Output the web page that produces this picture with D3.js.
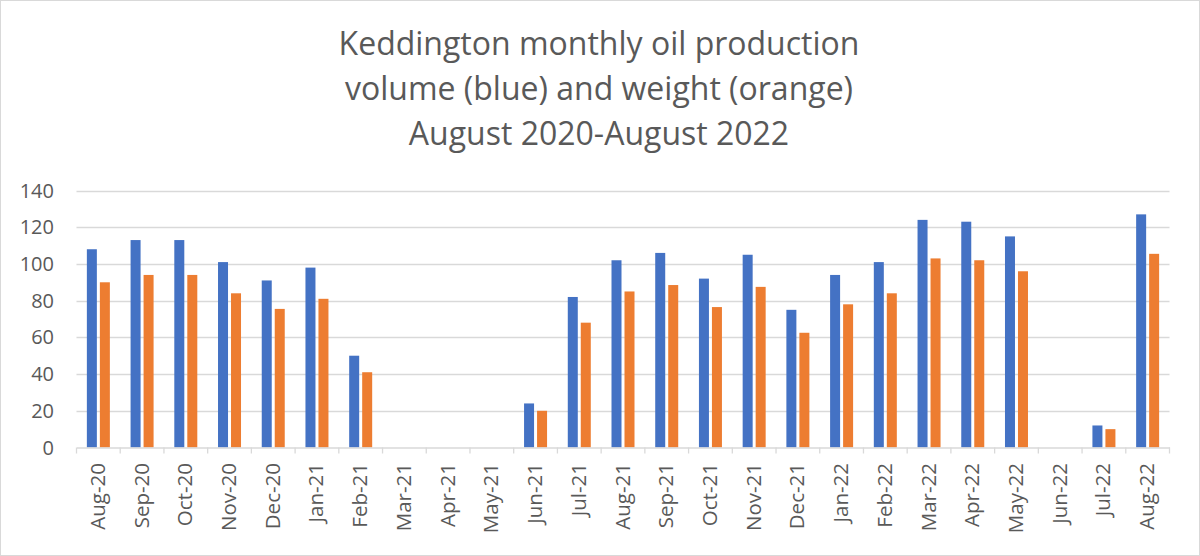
<!DOCTYPE html>
<html>
<head>
<meta charset="utf-8">
<script src="https://cdn.jsdelivr.net/npm/d3@7"></script>
<style>
  html, body { margin: 0; padding: 0; background: #fff; }
  svg { display: block; font-family: "Open Sans", sans-serif; }
</style>
</head>
<body>
<svg id="chart" width="1200" height="556"></svg>
<script>
// data
const months = ["Aug-20","Sep-20","Oct-20","Nov-20","Dec-20","Jan-21","Feb-21","Mar-21","Apr-21","May-21",
  "Jun-21","Jul-21","Aug-21","Sep-21","Oct-21","Nov-21","Dec-21","Jan-22","Feb-22","Mar-22",
  "Apr-22","May-22","Jun-22","Jul-22","Aug-22"];
const volume = [108,113,113,101,91,98,50,0,0,0,24,82,102,106,92,105,75,94,101,124,123,115,0,12,127];
const weight = [90,94,94,84,75.5,81,41,0,0,0,20,68,85,88.5,76.5,87.5,62.5,78,84,103,102,96,0,10,105.5];
const yTicks = [0,20,40,60,80,100,120,140];
const titleLines = ["Keddington monthly oil production", "volume (blue) and weight (orange)", "August 2020-August 2022"];

const svg = d3.select("#chart");
const W = 1200, H = 556;
const m = { left: 76.5, right: 1169.5, top: 190.5, bottom: 447.5 };

svg.append("rect").attr("x", 0.5).attr("y", 0.5).attr("width", W - 1).attr("height", H - 1)
  .attr("fill", "#fff").attr("stroke", "#d9d9d9");

// title
svg.append("g").selectAll("text").data(titleLines).join("text")
  .attr("x", 599).attr("y", (d, i) => 55 + i * 45)
  .attr("text-anchor", "middle").attr("fill", "#595959").style("font-size", "32px")
  .text(d => d);

const x = d3.scaleBand().domain(months).range([m.left, m.right]);
const y = d3.scaleLinear().domain([0, 140]).range([m.bottom, m.top]);

// gridlines
svg.append("g").selectAll("line").data(yTicks.filter(t => t > 0)).join("line")
  .attr("x1", m.left).attr("x2", m.right)
  .attr("y1", d => Math.round(y(d)) + 0.5).attr("y2", d => Math.round(y(d)) + 0.5)
  .attr("stroke", "#d9d9d9").attr("stroke-width", 1.3);

// y labels
svg.append("g").selectAll("text").data(yTicks).join("text")
  .attr("x", 54).attr("y", d => y(d) + 7)
  .attr("text-anchor", "end").attr("fill", "#595959").style("font-size", "20px")
  .text(d => d);

// bars
const bw = 10, gap = 3;
const series = [{ vals: volume, color: "#4472c4", off: -(bw + gap / 2) }, { vals: weight, color: "#ed7d31", off: gap / 2 }];
series.forEach(s => {
  svg.append("g").selectAll("rect").data(months).join("rect")
    .attr("x", (d, i) => x(d) + x.bandwidth() / 2 + s.off)
    .attr("width", bw)
    .attr("y", (d, i) => y(s.vals[i]))
    .attr("height", (d, i) => y(0) - y(s.vals[i]))
    .attr("fill", s.color);
});

// x axis line and ticks
const axis = svg.append("g").attr("transform", `translate(0,${m.bottom})`)
  .call(d3.axisBottom(x).tickSize(0).tickFormat(""));
axis.select(".domain").attr("stroke", "#d9d9d9").attr("stroke-width", 1.3);
axis.selectAll(".tick").remove();
const bounds = months.map(d => x(d)).concat([m.right]);
svg.append("g").selectAll("line").data(bounds).join("line")
  .attr("x1", d => d).attr("x2", d => d)
  .attr("y1", m.bottom).attr("y2", m.bottom + 6)
  .attr("stroke", "#d9d9d9").attr("stroke-width", 1.3);

// x labels, rotated
svg.append("g").selectAll("text").data(months).join("text")
  .attr("transform", d => `translate(${x(d) + x.bandwidth() / 2 + 6.5},463) rotate(-90)`)
  .attr("text-anchor", "end").attr("fill", "#595959").style("font-size", "20.5px")
  .text(d => d);
</script>
</body>
</html>
